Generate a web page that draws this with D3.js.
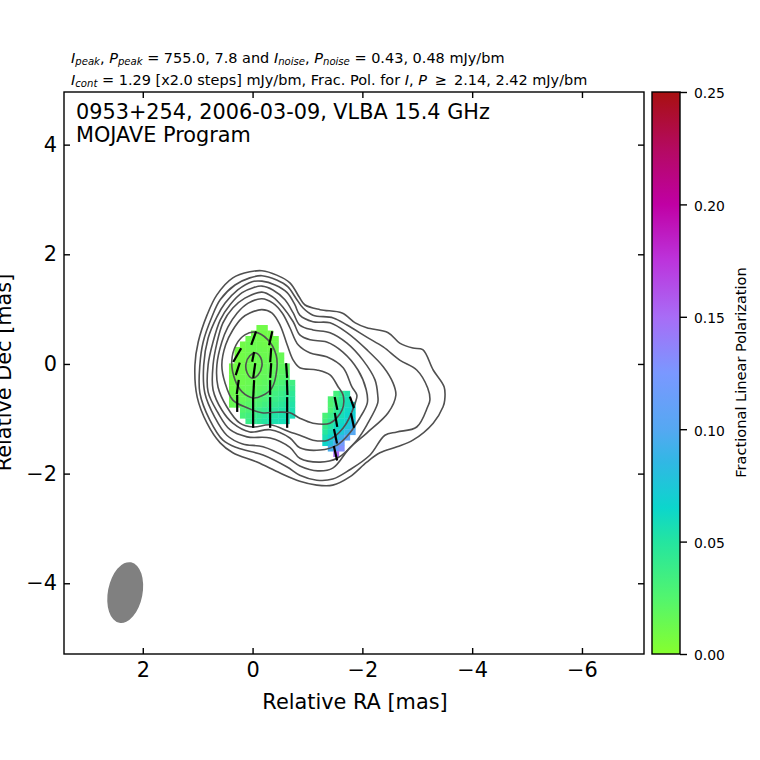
<!DOCTYPE html>
<html>
<head>
<meta charset="utf-8">
<script src="https://cdn.jsdelivr.net/npm/d3@7"></script>
<style>
  html, body { margin: 0; padding: 0; background: #fff; }
  svg { display: block; font-family: "DejaVu Sans", sans-serif; white-space: pre; }
  .domain { display: none; }
</style>
</head>
<body>
<div id="chart"></div>
<script>
const raTicks = [2, 0, -2, -4, -6];
const decTicks = [4, 2, 0, -2, -4];
const fracTicks = [0, 0.05, 0.1, 0.15, 0.2, 0.25];

// colormap
const cmapStops = [0, 0.025, 0.05, 0.065, 0.085, 0.1, 0.125, 0.15, 0.175, 0.2, 0.225, 0.25];
const cmapColors = ['#86ff2e', '#52f56e', '#24e5a0', '#0cd6cc', '#30b8e4', '#55a8f2',
                    '#7a98ff', '#a86cf6', '#bc34dc', '#c000a4', '#b40a60', '#a81010'];

// stokes I contours, [RA, Dec] in mas, outermost first
const contour1 = [[-0.17,1.70],[-0.44,1.62],[-0.68,1.48],[-0.85,1.22],[-0.95,1.08],[-1.23,0.99],[-1.63,0.93],[-1.87,0.75],[-2.08,0.66],[-2.47,0.57],[-2.68,0.38],[-2.92,0.29],[-3.10,0.26],[-3.29,-0.11],[-3.49,-0.42],[-3.50,-0.66],[-3.47,-0.78],[-3.29,-1.08],[-2.92,-1.39],[-2.63,-1.51],[-2.32,-1.62],[-2.08,-1.79],[-1.77,-2.06],[-1.46,-2.21],[-1.17,-2.21],[-0.86,-2.14],[-0.50,-1.99],[-0.08,-1.79],[0.36,-1.62],[0.59,-1.44],[0.83,-1.08],[1.01,-0.60],[1.05,-0.02],[0.99,0.40],[0.83,0.89],[0.65,1.26],[0.36,1.57],[0.05,1.68]];
const contour2 = [[-0.17,1.61],[-0.44,1.53],[-0.64,1.41],[-0.79,1.20],[-0.92,1.02],[-1.10,0.89],[-1.47,0.84],[-1.72,0.71],[-2.08,0.49],[-2.38,0.31],[-2.68,0.07],[-2.99,-0.11],[-3.19,-0.44],[-3.23,-0.66],[-3.19,-0.78],[-2.99,-1.15],[-2.63,-1.24],[-2.41,-1.30],[-2.14,-1.66],[-1.77,-1.93],[-1.46,-2.10],[-1.17,-2.12],[-0.86,-2.03],[-0.63,-1.88],[-0.19,-1.66],[0.28,-1.53],[0.54,-1.39],[0.78,-1.02],[0.96,-0.53],[0.96,-0.02],[0.90,0.40],[0.74,0.86],[0.59,1.17],[0.32,1.44],[0.05,1.57]];
const contour3 = [[-0.17,1.51],[-0.41,1.44],[-0.63,1.30],[-0.77,1.08],[-0.86,0.89],[-1.10,0.77],[-1.41,0.75],[-1.72,0.57],[-2.08,0.26],[-2.38,-0.05],[-2.56,-0.35],[-2.61,-0.57],[-2.47,-0.89],[-2.08,-1.26],[-1.77,-1.53],[-1.46,-1.90],[-1.19,-1.95],[-0.86,-1.86],[-0.63,-1.71],[-0.19,-1.51],[0.18,-1.46],[0.47,-1.30],[0.69,-0.97],[0.87,-0.53],[0.89,-0.02],[0.81,0.47],[0.65,0.86],[0.50,1.11],[0.27,1.35],[0.01,1.50]];
const contour4 = [[-0.17,1.42],[-0.37,1.35],[-0.59,1.17],[-0.74,0.93],[-0.86,0.71],[-1.10,0.62],[-1.41,0.57],[-1.72,0.38],[-2.01,0.07],[-2.23,-0.29],[-2.28,-0.57],[-2.28,-0.71],[-2.10,-1.08],[-1.90,-1.39],[-1.54,-1.72],[-1.23,-1.79],[-0.86,-1.72],[-0.68,-1.52],[-0.32,-1.35],[0.10,-1.33],[0.41,-1.20],[0.63,-0.89],[0.81,-0.51],[0.81,-0.02],[0.72,0.40],[0.59,0.80],[0.41,1.08],[0.19,1.30],[-0.01,1.39]];
const contour5 = [[-0.17,1.31],[-0.37,1.22],[-0.55,1.04],[-0.74,0.77],[-0.86,0.53],[-1.05,0.44],[-1.35,0.40],[-1.64,0.22],[-1.92,-0.11],[-2.07,-0.47],[-2.09,-0.71],[-1.95,-0.99],[-1.77,-1.26],[-1.54,-1.48],[-1.23,-1.57],[-0.86,-1.53],[-0.68,-1.35],[-0.32,-1.20],[0.05,-1.24],[0.36,-1.08],[0.56,-0.84],[0.72,-0.47],[0.72,-0.02],[0.65,0.38],[0.54,0.75],[0.36,1.02],[0.14,1.20]];
const contour6 = [[-0.17,1.19],[-0.37,1.11],[-0.54,0.93],[-0.68,0.66],[-0.83,0.35],[-1.05,0.20],[-1.35,0.13],[-1.65,-0.07],[-1.81,-0.42],[-1.90,-0.57],[-1.87,-0.71],[-1.65,-1.17],[-1.37,-1.39],[-1.10,-1.39],[-0.86,-1.30],[-0.68,-1.24],[-0.32,-1.11],[-0.01,-1.15],[0.23,-1.08],[0.47,-0.78],[0.63,-0.42],[0.65,-0.02],[0.56,0.40],[0.45,0.67],[0.28,0.93],[0.08,1.11]];
const contour7 = [[-0.17,0.99],[-0.35,0.93],[-0.50,0.71],[-0.63,0.35],[-0.74,0.07],[-0.86,-0.07],[-1.17,-0.11],[-1.41,-0.20],[-1.56,-0.42],[-1.65,-0.57],[-1.63,-0.84],[-1.41,-1.08],[-1.10,-1.08],[-0.86,-0.99],[-0.68,-0.89],[-0.44,-0.88],[-0.17,-0.89],[0.10,-0.80],[0.36,-0.66],[0.50,-0.35],[0.56,-0.02],[0.49,0.35],[0.36,0.62],[0.19,0.84],[0.05,0.93]];
const contour8 = [[-0.04,0.58],[-0.28,0.44],[-0.43,0.16],[-0.44,-0.11],[-0.35,-0.44],[-0.17,-0.58],[-0.01,-0.62],[0.19,-0.51],[0.32,-0.29],[0.38,0.04],[0.30,0.35],[0.14,0.53]];
const contour9 = [[-0.06,0.20],[-0.15,0.11],[-0.17,-0.04],[-0.10,-0.20],[0.01,-0.26],[0.10,-0.16],[0.12,0.00],[0.05,0.15]];
const contours = [contour1, contour2, contour3, contour4, contour5, contour6, contour7, contour8, contour9];

// fractional pol, core region: one row per Dec, first cell at the RA given
const coreDec = [0.66, 0.56, 0.46, 0.36, 0.26, 0.16, 0.06, -0.04, -0.14, -0.24, -0.34, -0.44, -0.54, -0.64, -0.74, -0.84, -0.94, -1.04];
const coreRaStart = [-0.12, -0.02, 0.08, 0.18, 0.28, 0.28, 0.28, 0.38, 0.38, 0.38, 0.38, 0.38, 0.38, 0.38, 0.38, 0.18, 0.18, 0.08];
const coreFrac = [
  [.010, .010],
  [.011, .010, .010, .010],
  [.012, .012, .011, .010, .010, .011],
  [.010, .013, .013, .012, .011, .011, .012],
  [.008, .010, .012, .013, .013, .012, .012, .013],
  [.008, .010, .012, .013, .013, .013, .013, .014, .015],
  [.008, .010, .012, .013, .013, .014, .014, .015, .016],
  [.009, .009, .011, .012, .013, .014, .015, .016, .017, .018, .020],
  [.009, .010, .011, .012, .014, .015, .016, .017, .018, .020, .022],
  [.010, .010, .012, .013, .014, .016, .017, .018, .020, .022, .025],
  [.010, .011, .012, .014, .015, .017, .019, .021, .024, .028, .032, .035],
  [.011, .012, .014, .015, .017, .019, .021, .025, .029, .033, .037, .040],
  [.012, .013, .015, .017, .019, .022, .026, .030, .034, .038, .042, .045],
  [.013, .014, .016, .019, .022, .026, .030, .034, .038, .042, .046, .049],
  [.014, .016, .019, .022, .026, .030, .034, .038, .042, .046, .050, .052],
  [.025, .029, .033, .037, .041, .045, .048, .051, .053, .055],
  [.030, .034, .038, .042, .046, .049, .052, .054, .056, .057],
  [.038, .042, .046, .050, .053, .055, .057, .058]
];

// same for the knot
const knotDec = [-0.54, -0.64, -0.74, -0.84, -0.94, -1.04, -1.14, -1.24, -1.34, -1.44, -1.54, -1.64];
const knotRaStart = [-1.52, -1.42, -1.42, -1.42, -1.32, -1.32, -1.32, -1.32, -1.32, -1.32, -1.42, -1.52];
const knotFrac = [
  [.032, .042, .052],
  [.028, .036, .046, .056],
  [.026, .036, .048, .058, .064],
  [.030, .042, .054, .062, .068],
  [.030, .038, .050, .058, .064, .070],
  [.034, .044, .054, .062, .068, .076],
  [.040, .050, .060, .066, .074, .088],
  [.048, .058, .066, .074, .086, .100],
  [.056, .066, .076, .090, .108],
  [.064, .078, .095, .118],
  [.095, .112, .130],
  [.150]
];

// EVPA ticks: centre RA, centre Dec, length (mas), angle (deg, N through E)
const vecRa = [0.28, 0.27, 0.27, 0.28,
  -0.02, -0.01, -0.03, -0.02, -0.01, -0.01,
  -0.33, -0.33, -0.33, -0.32, -0.32, -0.32,
  -0.62, -0.63, -0.63, -0.63,
  -1.52, -1.52, -1.51, -1.51,
  -1.81, -1.82];
const vecDec = [0.16, -0.09, -0.42, -0.72,
  0.47, 0.13, -0.12, -0.45, -0.75, -1.03,
  0.47, 0.16, -0.12, -0.43, -0.74, -1.03,
  -0.12, -0.43, -0.74, -1.03,
  -0.72, -1.02, -1.32, -1.63,
  -0.70, -1.03];
const vecLen = [0.29, 0.24, 0.26, 0.31,
  0.26, 0.18, 0.27, 0.31, 0.29, 0.27,
  0.26, 0.26, 0.27, 0.27, 0.27, 0.27,
  0.27, 0.27, 0.27, 0.27,
  0.24, 0.26, 0.27, 0.27,
  0.22, 0.27];
const vecAngle = [-30, -18, -8, 0,
  -20, -11, -8, -3, 0, 0,
  -13, -4, -4, 0, 0, 0,
  4, 2, 0, 0,
  12, 10, 12, 13,
  20, 12];

const beamRa = 2.32;
const beamDec = -4.17;
const beamMajor = 1.125;
const beamMinor = 0.63;
const beamPa = -11;

const titleLine1 = [
  ['I', 'i'], ['peak', 's'], [', ', ''], ['P', 'i'], ['peak', 's'], [' = 755.0, 7.8 and ', ''],
  ['I', 'i'], ['noise', 's'], [', ', ''], ['P', 'i'], ['noise', 's'], [' = 0.43, 0.48 mJy/bm', '']
];
const titleLine2 = [
  ['I', 'i'], ['cont', 's'], [' = 1.29 [x2.0 steps] mJy/bm, Frac. Pol. for ', ''],
  ['I', 'i'], [', ', ''], ['P', 'i'], [' \u2009\u2265\u2009 2.14, 2.42 mJy/bm', '']
];

const width = 760, height = 760;
const svg = d3.select('#chart').append('svg').attr('width', width).attr('height', height);

const x = d3.scaleLinear().domain([3.435, -7.13]).range([64, 644]);
const y = d3.scaleLinear().domain([-5.29, 4.96]).range([654, 92]);
const cbarY = d3.scaleLinear().domain([0, 0.25]).range([654, 92]);
const color = d3.scaleLinear().domain(cmapStops).range(cmapColors);

const drawCells = (decs, raStarts, rows) => {
    rows.forEach((row, r) => {
        svg.append('g')
            .selectAll('rect')
            .data(row)
            .enter()
            .append('rect')
                .attr('x', (d, i) => x(raStarts[r] - i * 0.1 + 0.05))
                .attr('y', y(decs[r] + 0.05))
                .attr('width', x(0) - x(0.1) + 0.4)
                .attr('height', y(0) - y(0.1) + 0.4)
                .attr('fill', d => color(d));
    });
};
drawCells(coreDec, coreRaStart, coreFrac);
drawCells(knotDec, knotRaStart, knotFrac);

const contourLine = d3.line()
    .x(d => x(d[0]))
    .y(d => y(d[1]))
    .curve(d3.curveCatmullRomClosed.alpha(0.5));

svg.append('g')
    .selectAll('path')
    .data(contours)
    .enter()
    .append('path')
        .attr('d', contourLine)
        .attr('fill', 'none')
        .attr('stroke', '#505050')
        .attr('stroke-width', 1.6);

const rad = Math.PI / 180;
svg.append('g')
    .selectAll('line')
    .data(vecRa)
    .enter()
    .append('line')
        .attr('x1', (d, i) => x(d + vecLen[i] / 2 * Math.sin(vecAngle[i] * rad)))
        .attr('y1', (d, i) => y(vecDec[i] + vecLen[i] / 2 * Math.cos(vecAngle[i] * rad)))
        .attr('x2', (d, i) => x(d - vecLen[i] / 2 * Math.sin(vecAngle[i] * rad)))
        .attr('y2', (d, i) => y(vecDec[i] - vecLen[i] / 2 * Math.cos(vecAngle[i] * rad)))
        .attr('stroke', '#000')
        .attr('stroke-width', 2.2);

// beam
svg.append('ellipse')
    .attr('cx', x(beamRa))
    .attr('cy', y(beamDec))
    .attr('rx', (x(0) - x(beamMinor)) / 2)
    .attr('ry', (y(0) - y(beamMajor)) / 2)
    .attr('transform', `rotate(${-beamPa} ${x(beamRa)} ${y(beamDec)})`)
    .attr('fill', '#808080');

// axes, inward ticks on all four sides
const tickLen = 6;
const styleAxis = (g, size) => {
    g.selectAll('.tick line').attr('stroke', '#000').attr('stroke-width', 1.4);
    g.selectAll('.tick text').attr('fill', '#000').style('font-size', size + 'px').style('font-family', '"DejaVu Sans"');
};
svg.append('g')
    .attr('transform', 'translate(0,654)')
    .call(d3.axisBottom(x).tickValues(raTicks).tickSize(-tickLen).tickPadding(8))
    .call(styleAxis, 20.83);
svg.append('g')
    .attr('transform', 'translate(0,92)')
    .call(d3.axisTop(x).tickValues(raTicks).tickSize(-tickLen).tickFormat(''))
    .call(styleAxis, 20.83);
svg.append('g')
    .attr('transform', 'translate(64,0)')
    .call(d3.axisLeft(y).tickValues(decTicks).tickSize(-tickLen).tickPadding(7))
    .call(styleAxis, 20.83);
svg.append('g')
    .attr('transform', 'translate(644,0)')
    .call(d3.axisRight(y).tickValues(decTicks).tickSize(-tickLen).tickFormat(''))
    .call(styleAxis, 20.83);

svg.append('rect')
    .attr('x', 64).attr('y', 92).attr('width', 580).attr('height', 562)
    .attr('fill', 'none').attr('stroke', '#000').attr('stroke-width', 1.4);

// colorbar
const gradient = svg.append('defs').append('linearGradient')
    .attr('id', 'cbar')
    .attr('x1', 0).attr('y1', 1).attr('x2', 0).attr('y2', 0);
gradient.selectAll('stop')
    .data(cmapStops)
    .enter()
    .append('stop')
        .attr('offset', d => d / 0.25)
        .attr('stop-color', (d, i) => cmapColors[i]);
svg.append('rect')
    .attr('x', 652).attr('y', 92).attr('width', 28).attr('height', 562)
    .attr('fill', 'url(#cbar)').attr('stroke', '#000').attr('stroke-width', 1.4);
svg.append('g')
    .attr('transform', 'translate(680,0)')
    .call(d3.axisRight(cbarY).tickValues(fracTicks).tickSize(7).tickPadding(7).tickFormat(d3.format('.2f')))
    .call(styleAxis, 13.9)
    .call(g => g.selectAll('.tick text').attr('y', 1.5));

svg.append('text')
    .attr('transform', 'translate(746,372.5) rotate(-90)')
    .attr('text-anchor', 'middle')
    .style('font-size', '14.58px')
    .text('Fractional Linear Polarization');

// labels
svg.append('text')
    .attr('x', 355).attr('y', 709)
    .attr('text-anchor', 'middle')
    .style('font-size', '20.83px')
    .text('Relative RA [mas]');
svg.append('text')
    .attr('transform', 'translate(11,372.5) rotate(-90)')
    .attr('text-anchor', 'middle')
    .style('font-size', '20.83px')
    .text('Relative Dec [mas]');

svg.append('text').attr('x', 76).attr('y', 119).style('font-size', '20.8px')
    .text('0953+254, 2006-03-09, VLBA 15.4 GHz');
svg.append('text').attr('x', 76).attr('y', 142).style('font-size', '20.8px')
    .text('MOJAVE Program');

const drawTitle = (parts, baseline) => {
    const t = svg.append('text').attr('x', 71).attr('y', baseline).style('font-size', '14.47px');
    let shifted = false;
    parts.forEach(([str, kind]) => {
        const span = t.append('tspan').text(str);
        if (kind === 'i' || kind === 's') span.style('font-style', 'italic');
        if (kind === 's') span.style('font-size', '10.1px');
        if (kind === 's' && !shifted) { span.attr('dy', 2); shifted = true; }
        else if (kind !== 's' && shifted) { span.attr('dy', -2); shifted = false; }
    });
};
drawTitle(titleLine1, 63);
drawTitle(titleLine2, 85);
</script>
</body>
</html>
